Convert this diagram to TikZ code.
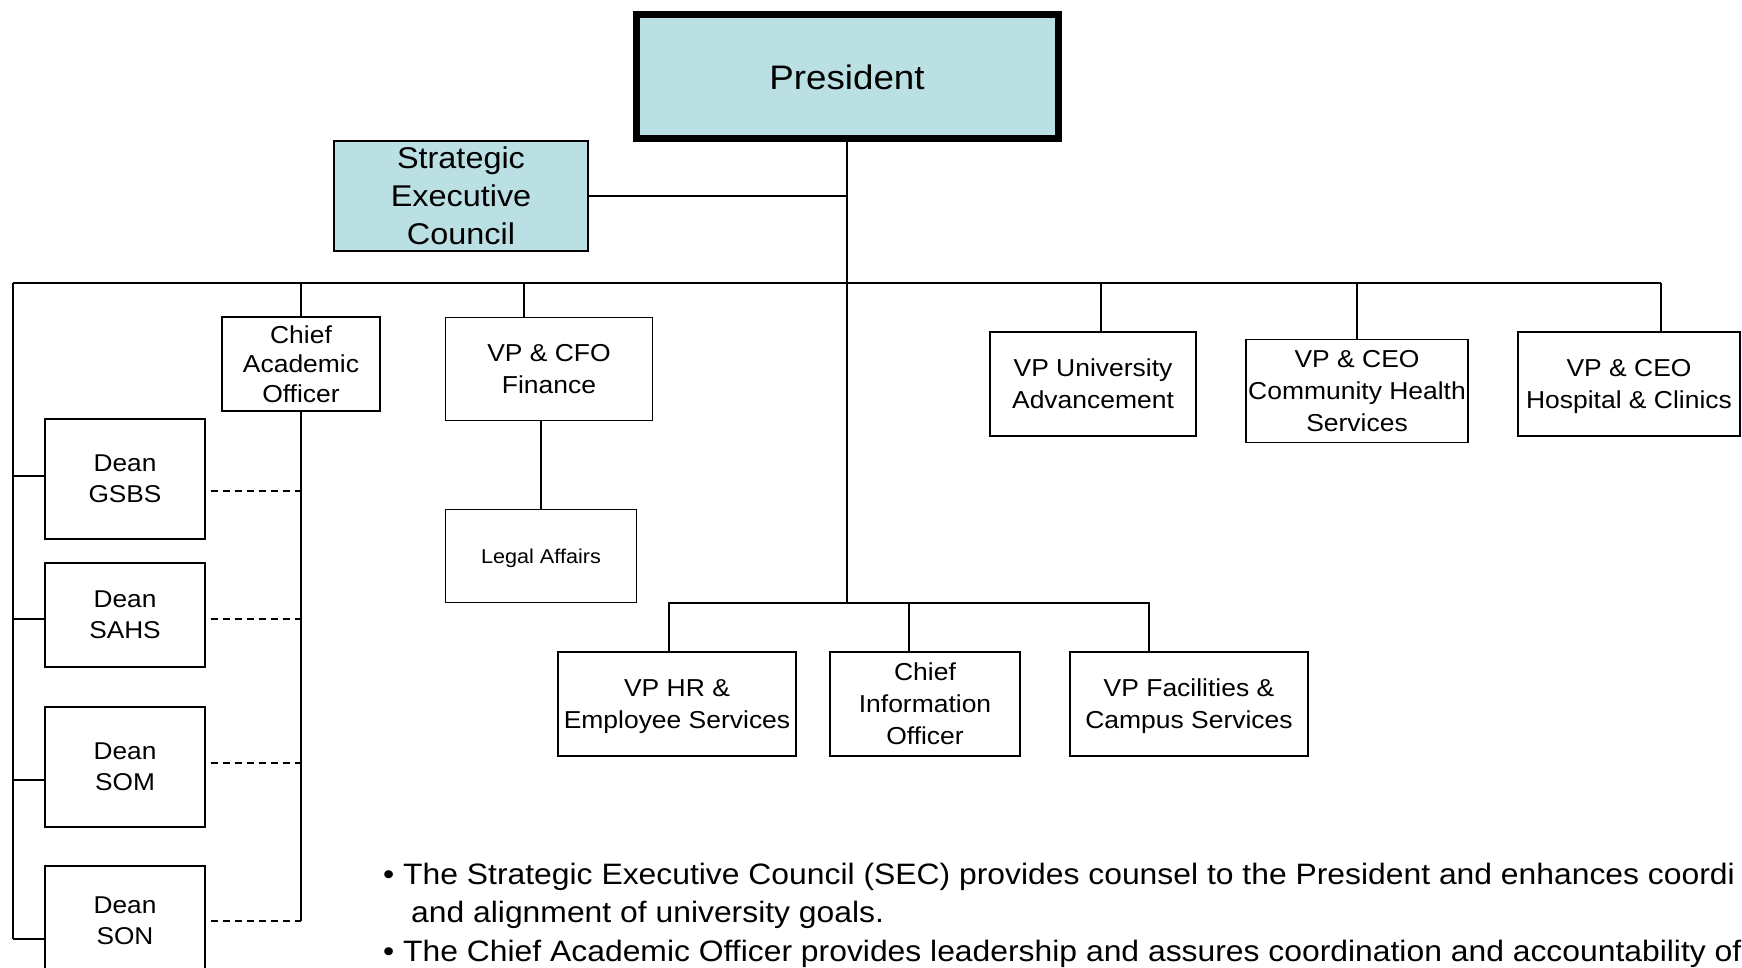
\documentclass[tikz,border=0pt]{standalone}
\usepackage{fontspec}
\setmainfont[FakeStretch=1.08]{Liberation Sans}
\definecolor{secblue}{RGB}{186,224,227}
\begin{document}
\begin{tikzpicture}[x=1pt, y=-1pt,
           every node/.style = {shape=rectangle, align=center, inner sep=0pt},
           box/.style = {draw, line width=1.8pt},
           unit/.style = {box, font=\fontsize{24.5}{32}\selectfont, text depth=-9pt},
           council/.style = {box, fill=secblue},
           dean/.style = {unit, minimum width=160, font=\fontsize{24.3}{31}\selectfont, text depth=-6pt},
           link/.style = {line width=1.8pt},
           dotted link/.style = {line width=1.8pt, dash pattern=on 7pt off 5pt},
           note/.style = {anchor=base west, font=\fontsize{29.5}{38}\selectfont}]
  \useasboundingbox (0,0) rectangle (1742,968);
  \node[council, line width=7pt, minimum width=422, minimum height=124,
        font=\fontsize{34}{40}\selectfont] (pres) at (847,77) {President};
  \node[council, minimum width=254, minimum height=110,
        font=\fontsize{30}{38}\selectfont] (sec) at (461,196) {Strategic\\Executive\\Council};
  \node[unit, minimum width=158, minimum height=94,
        font=\fontsize{24.5}{29.4}\selectfont] (cao) at (301,364) {Chief\\Academic\\Officer};
  \node[unit, minimum width=207, minimum height=103] (cfo) at (549,369) {VP \& CFO\\Finance};
  \node[unit, minimum width=191, minimum height=93, text depth=-4pt,
        font=\fontsize{20}{24}\selectfont] (legal) at (541,556) {Legal Affairs};
  \node[unit, minimum width=206, minimum height=104] (vpua) at (1093,384) {VP University\\Advancement};
  \node[unit, minimum width=222, minimum height=103] (chs) at (1357,391) {VP \& CEO\\Community Health\\Services};
  \node[unit, minimum width=222, minimum height=104] (hosp) at (1629,384) {VP \& CEO\\Hospital \& Clinics};
  \node[unit, minimum width=238, minimum height=104] (hr) at (677,704) {VP HR \&\\Employee Services};
  \node[unit, minimum width=190, minimum height=104] (cio) at (925,704) {Chief\\Information\\Officer};
  \node[unit, minimum width=238, minimum height=104] (fac) at (1189,704) {VP Facilities \&\\Campus Services};
  \node[dean, minimum height=120] (gsbs) at (125,479) {Dean\\GSBS};
  \node[dean, minimum height=104] (sahs) at (125,615) {Dean\\SAHS};
  \node[dean, minimum height=120] (som) at (125,767) {Dean\\SOM};
  \node[dean, minimum height=110] (son) at (125,921) {Dean\\SON};

  \coordinate (busL) at (13,283);
  \coordinate (busR) at (1661,283);
  \coordinate (lowbus) at (847,603);
  \draw[link] (busL) -- (busR);
  \draw[link] (pres.south) -- (lowbus);
  \draw[link] (sec.east) -- (sec.east -| pres.south);
  \draw[link] (cao.north) -- (cao.north |- busL);
  \draw[link] ([xshift=-25]cfo.north) -- ([xshift=-25]cfo.north |- busL);
  \draw[link] ([xshift=8]vpua.north) -- ([xshift=8]vpua.north |- busL);
  \draw[link] (chs.north) -- (chs.north |- busL);
  \draw[link] ([xshift=32]hosp.north) -- (busR);
  \draw[link] (legal.north |- cfo.south) -- (legal.north);
  \draw[link] ([xshift=-8]hr.north) |- ([xshift=-40]fac.north |- lowbus) -- ([xshift=-40]fac.north);
  \draw[link] ([xshift=-16]cio.north) -- ([xshift=-16]cio.north |- lowbus);
  \draw[link] (busL) -- ([yshift=-18]son.west -| busL);
  \foreach \d/\s in {gsbs/3, sahs/-4, som/-13, son/-18}
    \draw[link] ([yshift=\s]\d.west) -- +(-31,0);
  \draw[link] (cao.south) -- (cao.south |- son.east);
  \foreach \d/\s in {gsbs/-12, sahs/-4, som/4, son/0}
    \draw[dotted link] ([xshift=5,yshift=\s]\d.east) -- +(90,0);

  \node[note] (secnote) at (383,884) {• The Strategic Executive Council (SEC) provides counsel to the President and enhances coordi};
  \node[note] (secnote2) at (411,922) {and alignment of university goals.};
  \node[note] (caonote) at (383,961) {• The Chief Academic Officer provides leadership and assures coordination and accountability of};
\end{tikzpicture}
\end{document}
